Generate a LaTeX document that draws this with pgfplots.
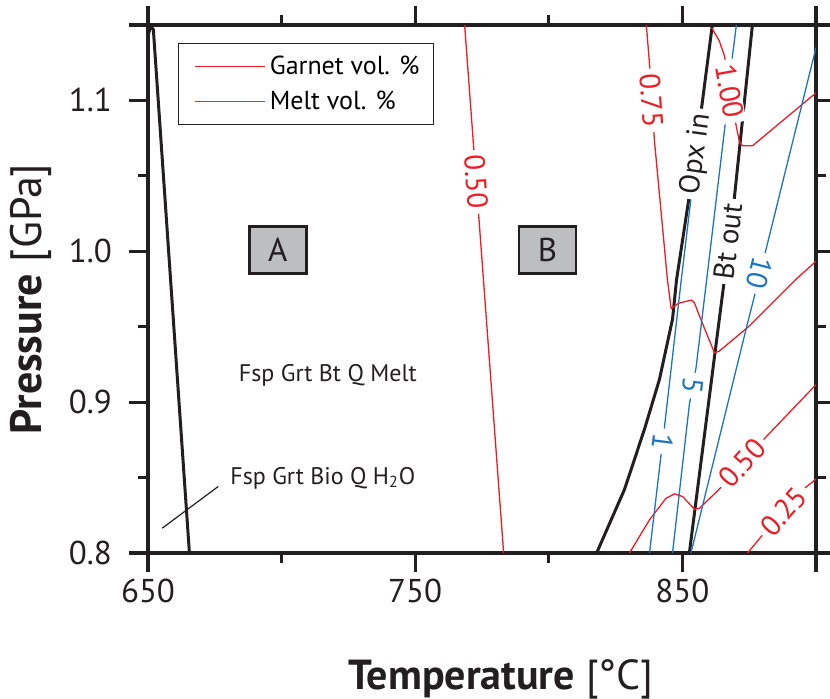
\documentclass[border=0pt]{standalone}
\usepackage{fontspec}
\setmainfont{PT Sans}
\usepackage{pgfplots}
\pgfplotsset{compat=1.18}
\definecolor{cred}{RGB}{237,28,36}
\definecolor{cblue}{RGB}{28,117,188}
\definecolor{cblack}{RGB}{35,31,32}
\definecolor{cgray}{RGB}{188,190,192}
\tikzset{clab/.style={fill=white, inner xsep=2.5pt, inner ysep=0.5pt, font=\fontsize{14.5}{14.5}\selectfont}}
\begin{document}
\begin{tikzpicture}
\begin{axis}[
  name=ax,
  scale only axis,
  width=334pt, height=264pt,
  xmin=650, xmax=900, ymin=0.8, ymax=1.15,
  axis line style={line width=1.6pt, draw=cblack},
  tick align=outside,
  major tick length=9.5pt, minor tick length=5pt,
  every tick/.style={line width=1.6pt, draw=cblack},
  xtick={650,750,850,900}, xticklabels={650,750,850,},
  minor xtick={700,800},
  ytick={0.8,0.9,1.0,1.1,1.15}, yticklabels={0.8,0.9,1.0,1.1,},
  minor ytick={0.85,0.95,1.05},
  tick label style={font=\fontsize{16.5}{18}\selectfont, text=cblack},
  yticklabel style={xshift=-5pt},
  legend style={at={(0.045,0.966)}, anchor=north west, draw=cblack, line width=0.6pt,
    font=\fontsize{13}{15}\selectfont, inner xsep=5pt, inner ysep=4pt, row sep=3pt,
    cells={anchor=west}},
  legend image code/.code={\path (0pt,0pt); \draw[#1, line width=0.6pt] (3pt,0pt) -- (38pt,0pt);},
]
\addlegendimage{cred}
\addlegendentry{Garnet vol. \%}
\addlegendimage{cblue}
\addlegendentry{Melt vol. \%}

% black phase boundaries
\addplot[forget plot, cblack, line width=1.5pt] coordinates {(649.5,1.14) (651.0,1.149) (652.0,1.147) (665.5,0.8)};
\addplot[forget plot, cblack, line width=1.5pt] coordinates {(817.9,0.8) (828.3,0.842) (835.8,0.882) (841.4,0.915) (846.3,0.955) (847.8,0.981) (852.6,1.037) (857.1,1.094) (861.2,1.15)};
\addplot[forget plot, cblack, line width=1.5pt] coordinates {(852.6,0.8) (862.0,0.930) (865.7,0.981) (869.4,1.0346) (876.2,1.15)};

% garnet contours
\addplot[forget plot, cred, line width=0.65pt] coordinates {(768.5,1.15) (783.1,0.8)};
\addplot[forget plot, cred, line width=0.65pt] coordinates {(836.5,1.15) (837.7,1.124) (839.5,1.074) (844.4,0.981) (845.8,0.962) (848.5,0.9655) (853.3,0.9676) (854.5,0.9659) (856.4,0.957) (862.0,0.9327) (863.8,0.9338) (875.0,0.9504) (892.5,0.9814) (900,0.9934)};
\addplot[forget plot, cred, line width=0.65pt] coordinates {(861.0,1.148) (863.8,1.1395) (865.7,1.1298) (870.1,1.0833) (871.4,1.0722) (872.5,1.070) (876.3,1.070) (900,1.105)};
\addplot[forget plot, cred, line width=0.65pt] coordinates {(830.2,0.8) (837.7,0.822) (843.9,0.8363) (847.1,0.8392) (850.1,0.8374) (854.5,0.829) (856.4,0.8297) (863.8,0.8423) (880.9,0.8762) (900,0.9116)};
\addplot[forget plot, cred, line width=0.65pt] coordinates {(874.4,0.8) (880.0,0.812) (895.0,0.8419) (900,0.849)};

% melt contours
\addplot[forget plot, cblue, line width=0.65pt] coordinates {(837.7,0.8) (842.1,0.8664) (843.3,0.8837) (849.6,0.9814) (853.4,1.0379)};
\addplot[forget plot, cblue, line width=0.65pt] coordinates {(846.3,0.8) (852.6,0.8983) (855.1,0.9227) (859.1,0.9814) (866.1,1.0855) (868.6,1.1276) (870.2,1.15)};
\addplot[forget plot, cblue, line width=0.65pt] coordinates {(853.2,0.8) (873.8,0.9482) (877.6,0.9748) (881.3,1.0013) (900,1.135)};

% leader line
\addplot[forget plot, cblack, line width=0.6pt] coordinates {(655.3,0.8164) (676.3,0.8441)};

% contour labels
\node[clab, text=cred, rotate=-86] at (axis cs:772.8,1.046) {0.50};
\node[clab, text=cred, rotate=-86] at (axis cs:838.4,1.100) {0.75};
\node[clab, text=cred, rotate=-80] at (axis cs:867.6,1.106) {1.00};
\node[clab, text=cred, rotate=48] at (axis cs:872.4,0.8595) {0.50};
\node[clab, text=cred, rotate=48] at (axis cs:887.8,0.8275) {0.25};
\node[clab, text=cblue, rotate=-97] at (axis cs:842.6,0.874) {1};
\node[clab, text=cblue, rotate=-97] at (axis cs:853.8,0.911) {5};
\node[clab, text=cblue, rotate=-104] at (axis cs:878.8,0.9854) {10};
\node[clab, text=cblack, rotate=82] at (axis cs:855.2,1.0645) {Opx in};
\node[clab, text=cblack, rotate=83] at (axis cs:867.0,1.0066) {Bt out};

% field labels
\node[draw=cblack, line width=1.3pt, fill=cgray, minimum width=28.5pt, minimum height=23.5pt, inner sep=0pt, font=\fontsize{16.5}{16.5}\selectfont, text=cblack] at (axis cs:698.6,1.0007) {A};
\node[draw=cblack, line width=1.3pt, fill=cgray, minimum width=28.5pt, minimum height=23.5pt, inner sep=0pt, font=\fontsize{16.5}{16.5}\selectfont, text=cblack] at (axis cs:799.5,1.0007) {B};
\node[font=\fontsize{12}{12}\selectfont, text=cblack] at (axis cs:717.3,0.9176) {Fsp Grt Bt Q Melt};
\node[anchor=west, inner sep=0pt, font=\fontsize{12}{12}\selectfont, text=cblack] at (axis cs:680.7,0.8498) {Fsp Grt Bio Q H\textsubscript{2}O};
\end{axis}
\node[anchor=base, font=\fontsize{21}{25}\selectfont, text=cblack] at ([shift={(176.5pt,-68.5pt)}]ax.south west) {\textbf{Temperature} [°C]};
\node[anchor=base, rotate=90, font=\fontsize{22}{26}\selectfont, text=cblack] at ([shift={(-53pt,127pt)}]ax.south west) {\textbf{Pressure} [GPa]};
\pgfresetboundingbox
\path[use as bounding box] ([shift={(-74pt,-73pt)}]ax.south west) rectangle ([shift={(7pt,12.5pt)}]ax.north east);
\end{tikzpicture}
\end{document}
